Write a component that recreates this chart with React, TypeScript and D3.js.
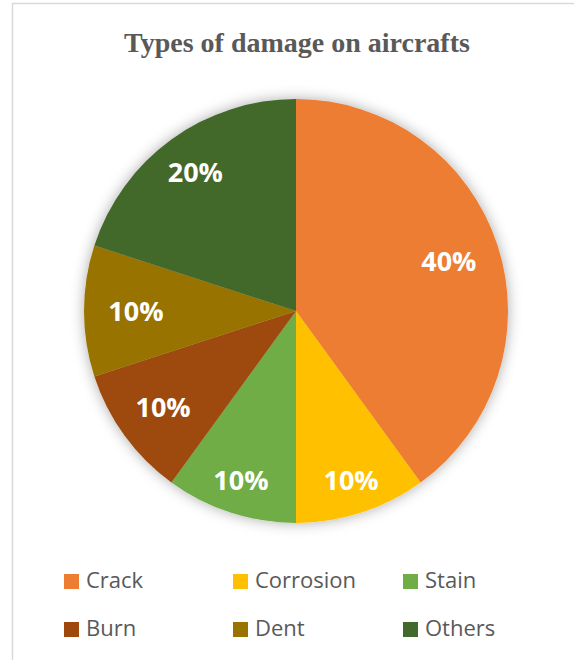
import React from "react";
import * as d3 from "d3";

const categories = ["Crack", "Corrosion", "Stain", "Burn", "Dent", "Others"];
const values = [40, 10, 10, 10, 10, 20];
const colors = ["#ED7D31", "#FFC000", "#70AD47", "#9E480E", "#997300", "#43682B"];
const title = "Types of damage on aircrafts";

const W = 574;
const H = 660;
const cx = 296;
const cy = 311;
const R = 212;

export default function App() {
  const data = categories.map((c, i) => ({ name: c, value: values[i], color: colors[i] }));
  const pie = d3.pie<any>().sort(null).value((d: any) => d.value);
  const arcs = pie(data);
  const arc = d3.arc<any>().innerRadius(0).outerRadius(R);
  const total = d3.sum(values);
  const fmt = d3.format(".0%");

  // best-fit style label placement: labels near vertical directions sit further out
  const labelPos = (a: any) => {
    const mid = (a.startAngle + a.endAngle) / 2;
    const c = Math.abs(Math.cos(mid));
    const r = R * (0.755 + 0.1 * c * c * c);
    return [r * Math.sin(mid), -r * Math.cos(mid)];
  };

  const legendCols = [64, 233, 403];
  const legendRows = [574, 622];

  return (
    <svg
      width={W}
      height={H}
      style={{ position: "absolute", left: 0, top: 0, background: "#fff" }}
    >
      <defs>
        <filter id="sh" x="-20%" y="-20%" width="140%" height="140%">
          <feDropShadow dx="0" dy="0" stdDeviation="7" floodColor="#000" floodOpacity="0.33" />
        </filter>
      </defs>
      <rect x={12.5} y={3.5} width={W} height={H} fill="#fff" stroke="#d9d9d9" strokeWidth={1.5} />
      <text
        x={297}
        y={52}
        textAnchor="middle"
        fontFamily="'Liberation Serif', 'Times New Roman', serif"
        fontWeight="bold"
        fontSize={28}
        fill="#595959"
      >
        {title}
      </text>
      <g transform={`translate(${cx},${cy})`}>
        <g filter="url(#sh)">
          {arcs.map((a, i) => (
            <path key={i} d={arc(a) as string} fill={a.data.color} />
          ))}
        </g>
        {arcs.map((a, i) => {
          const [x, y] = labelPos(a);
          return (
            <text
              key={i}
              x={x}
              y={y}
              dy="0.36em"
              textAnchor="middle"
              fontFamily="'Open Sans', sans-serif"
              fontWeight="bold"
              fontSize={27}
              fill="#fff"
            >
              {fmt(a.data.value / total)}
            </text>
          );
        })}
      </g>
      {data.map((d, i) => {
        const x = legendCols[i % 3];
        const y = legendRows[Math.floor(i / 3)];
        return (
          <g key={i} transform={`translate(${x},${y})`}>
            <rect x={0} y={0} width={15} height={15} fill={d.color} />
            <text
              x={22}
              y={14}
              fontFamily="'Open Sans', sans-serif"
              fontSize={22}
              fill="#595959"
            >
              {d.name}
            </text>
          </g>
        );
      })}
    </svg>
  );
}
